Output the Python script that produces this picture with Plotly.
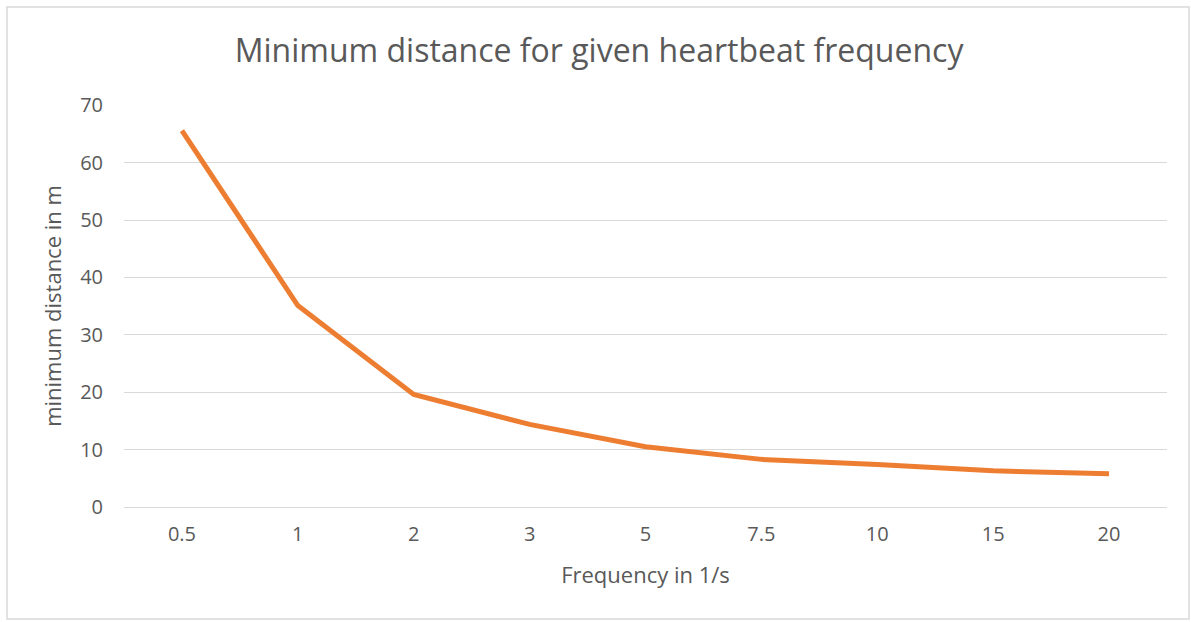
import plotly.graph_objects as go

frequencies = ["0.5", "1", "2", "3", "5", "7.5", "10", "15", "20"]
min_distance = [65.6, 35.1, 19.6, 14.4, 10.5, 8.3, 7.4, 6.3, 5.8]
y_ticks = [0, 10, 20, 30, 40, 50, 60, 70]

FONT = "Open Sans"
GREY = "#595959"

fig = go.Figure()
fig.add_trace(go.Scatter(
    x=frequencies, y=min_distance, mode="lines",
    line=dict(color="#ED7D31", width=5),
    showlegend=False,
))

fig.update_layout(
    width=1191, height=622,
    paper_bgcolor="white", plot_bgcolor="white",
    margin=dict(l=124, r=24, t=105, b=115),
    title=dict(text="Minimum distance for given heartbeat frequency",
               x=0.503, xanchor="center", y=0.918, yanchor="middle",
               font=dict(family=FONT, size=32, color=GREY)),
    xaxis=dict(type="category", range=[-0.5, 8.5], showgrid=False,
               zeroline=False, showline=False, ticks="",
               ticklabelstandoff=13,
               tickfont=dict(family=FONT, size=20, color=GREY),
               title=dict(text="Frequency in 1/s", standoff=21,
                          font=dict(family=FONT, size=22, color=GREY))),
    yaxis=dict(range=[0, 70.05], tickvals=y_ticks, showgrid=True,
               gridcolor="#D9D9D9", gridwidth=1.3, zeroline=True,
               zerolinecolor="#D9D9D9", zerolinewidth=1.3,
               showline=False, ticks="", ticklabelstandoff=20,
               tickfont=dict(family=FONT, size=20, color=GREY),
               title=dict(text="minimum distance in m", standoff=12,
                          font=dict(family=FONT, size=22, color=GREY))),
    shapes=[dict(type="rect", xref="paper", yref="paper",
                 x0=-124/1043 + 7/1043, x1=1 + 22/1043,
                 y0=-112/402, y1=1 + 98/402,
                 line=dict(color="#D9D9D9", width=1.5))],
)

fig.write_html("out.html")
